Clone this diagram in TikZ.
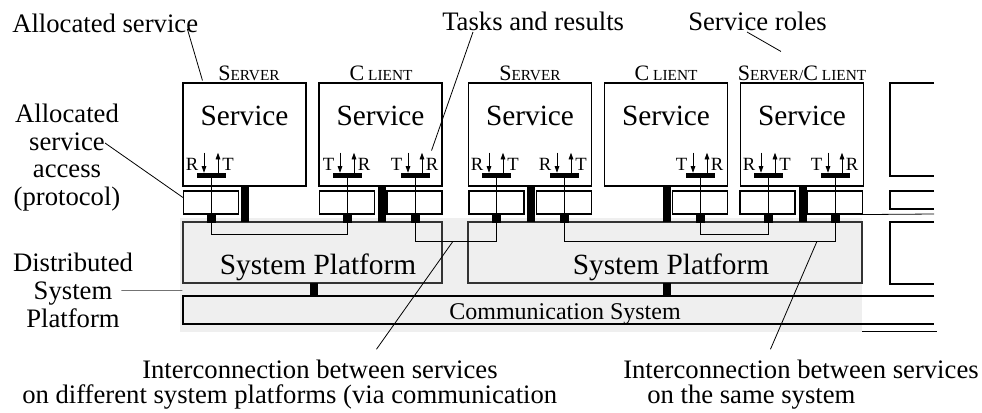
\documentclass[tikz,border=0pt]{standalone}
\usepackage{fontspec}
\setmainfont{Liberation Serif}
\usetikzlibrary{arrows.meta}
\definecolor{platgray}{RGB}{239,239,239}
\newcommand{\smcap}[2]{{\fontsize{16.5}{17}\selectfont #1}{\fontsize{11.5}{12}\selectfont #2}}

\begin{document}
\begin{tikzpicture}[x=0.75pt,y=0.75pt,yscale=-1,xscale=1,
  svc/.style={draw, line width=0.8pt, minimum width=92.25pt, minimum height=77.25pt, inner sep=0pt},
  acc/.style={draw, line width=0.8pt, minimum width=41.25pt, minimum height=17.25pt, inner sep=0pt},
  stem/.style={fill=black, minimum width=6pt, minimum height=27pt, inner sep=0pt},
  pstem/.style={fill=black, minimum width=6pt, minimum height=10.5pt, inner sep=0pt},
  port/.style={fill=black, minimum size=6.75pt, inner sep=0pt},
  tbar/.style={fill=black, minimum width=21.75pt, minimum height=3.75pt, inner sep=0pt},
  plat/.style={draw=black!80, fill=platgray, line width=0.8pt, minimum height=45.75pt, inner sep=0pt},
  link/.style={line width=0.6pt},
  lead/.style={line width=0.6pt},
  tra/.style={line width=0.6pt, -{Triangle[length=5pt,width=3.5pt]}},
  lbl/.style={font=\fontsize{20}{20.8}\selectfont, inner sep=0pt},
  svtxt/.style={font=\fontsize{22}{24}\selectfont, inner sep=0pt, anchor=base},
  trl/.style={font=\fontsize{14}{15}\selectfont, inner sep=0pt, anchor=base},
  role/.style={inner sep=0pt, anchor=base}
]
\useasboundingbox (0,0) rectangle (982,412);

%Shape: Rectangle [id:bg01] distributed system platform
\fill[platgray] (180,218) rectangle (862,332);

%Shape: Rectangle [id:pl01]
\node[plat, minimum width=194.25pt] (platA) at (312.5,252.5) {};
%Shape: Rectangle [id:pl02]
\node[plat, minimum width=295.5pt] (platB) at (665,252.5) {};
\node[svtxt] (platAt) at (318,274) {System Platform};
\node[svtxt] (platBt) at (671,274) {System Platform};

%Shape: Communication system (open to the right)
\draw[line width=0.8pt] (934,296) -- (183,296) -- (183,324) -- (934,324);
\draw[link] (862,331) -- (937,331);
\node[role, font=\fontsize{18}{20}\selectfont] (comt) at (565,319) {Communication System};
\node[pstem] (psA) at (313.5,290) {};
\node[pstem] (psB) at (667,290) {};

%Shape: clipped boxes at the right edge
\draw[line width=0.8pt] (934,83) -- (890,83) -- (890,176) -- (934,176);
\draw[line width=0.8pt] (934,191) -- (890,191) -- (890,209) -- (934,209);
\draw[line width=0.8pt] (934,222) -- (890,222) -- (890,284) -- (934,284);

%Shape: Service boxes
\node[svc] (srvA) at (244.5,134.5) {};
\node[svc] (srvB) at (380.5,134.5) {};
\node[svc] (srvC) at (530,134.5) {};
\node[svc] (srvD) at (666,134.5) {};
\node[svc] (srvE) at (802,134.5) {};
\node[svtxt] (srvAt) at (244.5,125) {Service};
\node[svtxt] (srvBt) at (380.5,125) {Service};
\node[svtxt] (srvCt) at (530,125) {Service};
\node[svtxt] (srvDt) at (666,125) {Service};
\node[svtxt] (srvEt) at (802,125) {Service};

%Roles
\node[role] (roleA) at (249,80) {\smcap{S}{ERVER}};
\node[role] (roleB) at (381,80) {\smcap{C\kern3pt}{LIENT}};
\node[role] (roleC) at (530,80) {\smcap{S}{ERVER}};
\node[role] (roleD) at (666,80) {\smcap{C\kern3pt}{LIENT}};
\node[role] (roleE) at (802,80) {\smcap{S}{ERVER/}\smcap{C\kern3pt}{LIENT}};

%Shape: stems to the platform
\node[stem] (stA) at (245,204) {};
\node[stem] (stB) at (381.5,204) {};
\node[stem] (stC) at (530.5,204) {};
\node[stem] (stD) at (667,204) {};
\node[stem] (stE) at (802.5,204) {};

%Shape: service access boxes
\node[acc] (acA) at (211,202.5) {};
\node[acc] (acB1) at (347,202.5) {};
\node[acc] (acB2) at (414.5,202.5) {};
\node[acc] (acC1) at (496.5,202.5) {};
\node[acc] (acC2) at (564,202.5) {};
\node[acc] (acD) at (700,202.5) {};
\node[acc] (acE1) at (767.5,202.5) {};
\node[acc] (acE2) at (835,202.5) {};
\draw[link] (acE2.south east) -- (934,214);

%Shape: task/result bars
\node[tbar] (tbA) at (211,175.5) {};
\node[tbar] (tbB1) at (347,175.5) {};
\node[tbar] (tbB2) at (415,175.5) {};
\node[tbar] (tbC1) at (496,175.5) {};
\node[tbar] (tbC2) at (564,175.5) {};
\node[tbar] (tbD) at (700,175.5) {};
\node[tbar] (tbE1) at (768,175.5) {};
\node[tbar] (tbE2) at (835,175.5) {};

%Shape: ports
\node[port] (sqA) at (211,218.5) {};
\node[port] (sqB1) at (347,218.5) {};
\node[port] (sqB2) at (415,218.5) {};
\node[port] (sqC1) at (496,218.5) {};
\node[port] (sqC2) at (564,218.5) {};
\node[port] (sqD) at (700,218.5) {};
\node[port] (sqE1) at (768,218.5) {};
\node[port] (sqE2) at (835,218.5) {};

%Straight Lines: bar to port
\draw[link] (tbA) -- (sqA);
\draw[link] (tbB1) -- (sqB1);
\draw[link] (tbB2) -- (sqB2);
\draw[link] (tbC1) -- (sqC1);
\draw[link] (tbC2) -- (sqC2);
\draw[link] (tbD) -- (sqD);
\draw[link] (tbE1) -- (sqE1);
\draw[link] (tbE2) -- (sqE2);

%Connection lines between services
\draw[link] (sqA.south) -- ++(0,11) -| (sqB1.south);
\draw[link] (sqB2.south) -- ++(0,18) -| (sqC1.south);
\draw[link] (sqC2.south) -- ++(0,18) -| (sqE2.south);
\draw[link] (sqD.south) -- ++(0,11) -| (sqE1.south);

%Arrows: R down, T up
\draw[tra] ([shift={(-7,-20)}]tbA.north) -- ([shift={(-7,0)}]tbA.north);
\draw[tra] ([shift={(7,0)}]tbA.north) -- ([shift={(7,-20)}]tbA.north);
\node[trl] (rA) at ([shift={(-19,-2)}]tbA.north) {R};
\node[trl] (tA) at ([shift={(17,-2)}]tbA.north) {T};

\draw[tra] ([shift={(-7,-20)}]tbB1.north) -- ([shift={(-7,0)}]tbB1.north);
\draw[tra] ([shift={(7,0)}]tbB1.north) -- ([shift={(7,-20)}]tbB1.north);
\node[trl] (tB1) at ([shift={(-18.5,-2)}]tbB1.north) {T};
\node[trl] (rB1) at ([shift={(17,-2)}]tbB1.north) {R};

\draw[tra] ([shift={(-7,-20)}]tbB2.north) -- ([shift={(-7,0)}]tbB2.north);
\draw[tra] ([shift={(7,0)}]tbB2.north) -- ([shift={(7,-20)}]tbB2.north);
\node[trl] (tB2) at ([shift={(-18.5,-2)}]tbB2.north) {T};
\node[trl] (rB2) at ([shift={(17,-2)}]tbB2.north) {R};

\draw[tra] ([shift={(-7,-20)}]tbC1.north) -- ([shift={(-7,0)}]tbC1.north);
\draw[tra] ([shift={(7,0)}]tbC1.north) -- ([shift={(7,-20)}]tbC1.north);
\node[trl] (rC1) at ([shift={(-19,-2)}]tbC1.north) {R};
\node[trl] (tC1) at ([shift={(17,-2)}]tbC1.north) {T};

\draw[tra] ([shift={(-7,-20)}]tbC2.north) -- ([shift={(-7,0)}]tbC2.north);
\draw[tra] ([shift={(7,0)}]tbC2.north) -- ([shift={(7,-20)}]tbC2.north);
\node[trl] (rC2) at ([shift={(-19,-2)}]tbC2.north) {R};
\node[trl] (tC2) at ([shift={(17,-2)}]tbC2.north) {T};

\draw[tra] ([shift={(-7,-20)}]tbD.north) -- ([shift={(-7,0)}]tbD.north);
\draw[tra] ([shift={(7,0)}]tbD.north) -- ([shift={(7,-20)}]tbD.north);
\node[trl] (tD) at ([shift={(-18.5,-2)}]tbD.north) {T};
\node[trl] (rD) at ([shift={(17,-2)}]tbD.north) {R};

\draw[tra] ([shift={(-7,-20)}]tbE1.north) -- ([shift={(-7,0)}]tbE1.north);
\draw[tra] ([shift={(7,0)}]tbE1.north) -- ([shift={(7,-20)}]tbE1.north);
\node[trl] (rE1) at ([shift={(-19,-2)}]tbE1.north) {R};
\node[trl] (tE1) at ([shift={(17,-2)}]tbE1.north) {T};

\draw[tra] ([shift={(-7,-20)}]tbE2.north) -- ([shift={(-7,0)}]tbE2.north);
\draw[tra] ([shift={(7,0)}]tbE2.north) -- ([shift={(7,-20)}]tbE2.north);
\node[trl] (tE2) at ([shift={(-18.5,-2)}]tbE2.north) {T};
\node[trl] (rE2) at ([shift={(17,-2)}]tbE2.north) {R};

%Text labels
\node[lbl, anchor=base west] (lbAlloc) at (12,32) {Allocated service};
\node[lbl, anchor=base west] (lbTasks) at (442,30) {Tasks and results};
\node[lbl, anchor=base west] (lbRoles) at (688,30) {Service roles};
\node[lbl, align=center] (lbAccess) at (67,157.5) {Allocated\\service\\access\\(protocol)};
\node[lbl, align=center] (lbDist) at (73,290.5) {Distributed\\System\\Platform};
\node[lbl, anchor=base west] (lbDiffA) at (142,378) {Interconnection between services};
\node[lbl, anchor=base west] (lbDiffB) at (22,403) {on different system platforms (via communication};
\node[lbl, anchor=base west] (lbSameA) at (623,378) {Interconnection between services};
\node[lbl, anchor=base west] (lbSameB) at (647,403) {on the same system};

%Straight Lines: leaders
\draw[lead] ([shift={(-11,-3)}]lbAlloc.base east) -- ([shift={(20,-2)}]srvA.north west);
\draw[lead] ([shift={(31,2)}]lbTasks.base west) -- ([shift={(-11,-36)}]srvB.south east);
\draw[lead] ([shift={(59,2)}]lbRoles.base west) -- ([shift={(41,-31)}]srvE.north west);
\draw[lead] (105,143) -- ([shift={(0,-5)}]acA.west);
\draw[lead, black!55] ([shift={(-12,0)}]lbDist.east) -- ([shift={(0,7)}]platA.south west);
\draw[lead] ([shift={(-43,18)}]sqC1.south) -- ([shift={(56.5,-10)}]lbDiffA.north);
\draw[lead] ([shift={(-18,18)}]sqE2.south) -- ([shift={(-30.5,-10)}]lbSameA.north);

\end{tikzpicture}
\end{document}
